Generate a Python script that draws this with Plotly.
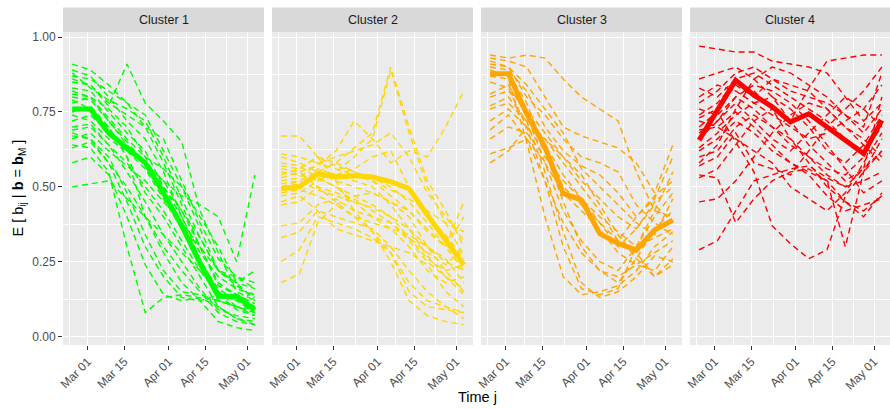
import plotly.graph_objects as go
import pandas as pd

# ---------------- data ----------------
dates = ["2020-02-24", "2020-03-02", "2020-03-09", "2020-03-16", "2020-03-23", "2020-03-30",
         "2020-04-06", "2020-04-13", "2020-04-20", "2020-04-27", "2020-05-04"]
cluster_names = ["Cluster 1", "Cluster 2", "Cluster 3", "Cluster 4"]
cluster_colors = ["#00FF00", "#FFD700", "#FFA500", "#FF0000"]
x_tick_vals = ["2020-03-01", "2020-03-15", "2020-04-01", "2020-04-15", "2020-05-01"]
x_minor_vals = ["2020-02-23", "2020-03-08", "2020-03-23 12:00", "2020-04-08", "2020-04-23"]
y_tick_vals = [0.0, 0.25, 0.5, 0.75, 1.0]
y_tick_text = ["0.00", "0.25", "0.50", "0.75", "1.00"]
y_minor_vals = [0.125, 0.375, 0.625, 0.875]

c1_mean = [0.76, 0.76, 0.68, 0.63, 0.58, 0.48, 0.37, 0.245, 0.135, 0.135, 0.09]
c1_lines = [
    [0.91, 0.89, 0.84, 0.78, 0.70, 0.58, 0.44, 0.30, 0.18, 0.14, 0.10],
    [0.89, 0.87, 0.80, 0.72, 0.66, 0.55, 0.40, 0.26, 0.15, 0.12, 0.08],
    [0.87, 0.86, 0.82, 0.78, 0.74, 0.62, 0.50, 0.36, 0.22, 0.17, 0.13],
    [0.85, 0.84, 0.77, 0.91, 0.78, 0.72, 0.65, 0.42, 0.28, 0.15, 0.12],
    [0.83, 0.82, 0.75, 0.68, 0.62, 0.50, 0.40, 0.28, 0.20, 0.16, 0.14],
    [0.80, 0.79, 0.72, 0.65, 0.58, 0.52, 0.42, 0.33, 0.22, 0.18, 0.16],
    [0.78, 0.80, 0.76, 0.70, 0.60, 0.48, 0.38, 0.24, 0.12, 0.10, 0.07],
    [0.75, 0.77, 0.70, 0.60, 0.48, 0.40, 0.30, 0.20, 0.10, 0.06, 0.05],
    [0.72, 0.74, 0.68, 0.62, 0.56, 0.46, 0.36, 0.25, 0.16, 0.12, 0.15],
    [0.70, 0.71, 0.64, 0.55, 0.45, 0.34, 0.25, 0.16, 0.09, 0.07, 0.06],
    [0.68, 0.66, 0.60, 0.48, 0.34, 0.22, 0.15, 0.14, 0.12, 0.10, 0.08],
    [0.66, 0.68, 0.62, 0.57, 0.52, 0.45, 0.38, 0.30, 0.22, 0.20, 0.18],
    [0.64, 0.63, 0.55, 0.30, 0.08, 0.13, 0.14, 0.13, 0.12, 0.10, 0.09],
    [0.63, 0.65, 0.58, 0.50, 0.40, 0.28, 0.18, 0.12, 0.05, 0.03, 0.02],
    [0.58, 0.60, 0.54, 0.40, 0.24, 0.14, 0.12, 0.13, 0.10, 0.06, 0.04],
    [0.50, 0.51, 0.52, 0.46, 0.40, 0.34, 0.28, 0.22, 0.15, 0.10, 0.08],
    [0.82, 0.80, 0.72, 0.64, 0.58, 0.52, 0.47, 0.44, 0.40, 0.25, 0.54],
    [0.86, 0.84, 0.78, 0.74, 0.70, 0.66, 0.52, 0.38, 0.26, 0.20, 0.16],
    [0.74, 0.72, 0.66, 0.62, 0.58, 0.50, 0.42, 0.30, 0.17, 0.14, 0.11],
    [0.79, 0.76, 0.70, 0.60, 0.40, 0.30, 0.22, 0.15, 0.08, 0.05, 0.04],
    [0.69, 0.70, 0.64, 0.58, 0.50, 0.42, 0.32, 0.22, 0.14, 0.09, 0.07],
    [0.88, 0.83, 0.79, 0.76, 0.72, 0.60, 0.46, 0.33, 0.22, 0.18, 0.22],
    [0.81, 0.80, 0.73, 0.66, 0.60, 0.56, 0.50, 0.40, 0.30, 0.18, 0.12],
    [0.67, 0.66, 0.58, 0.45, 0.30, 0.20, 0.13, 0.12, 0.14, 0.12, 0.10],
]

c2_mean = [0.494, 0.50, 0.544, 0.533, 0.537, 0.533, 0.517, 0.494, 0.406, 0.322, 0.239]
c2_lines = [
    [0.67, 0.67, 0.60, 0.57, 0.55, 0.53, 0.50, 0.45, 0.38, 0.30, 0.22],
    [0.61, 0.60, 0.58, 0.60, 0.62, 0.64, 0.68, 0.60, 0.48, 0.40, 0.32],
    [0.57, 0.56, 0.60, 0.58, 0.63, 0.68, 0.90, 0.70, 0.52, 0.42, 0.30],
    [0.55, 0.54, 0.52, 0.55, 0.60, 0.66, 0.89, 0.68, 0.50, 0.38, 0.27],
    [0.53, 0.55, 0.57, 0.62, 0.72, 0.66, 0.58, 0.62, 0.60, 0.70, 0.82],
    [0.51, 0.52, 0.55, 0.52, 0.50, 0.48, 0.45, 0.42, 0.36, 0.30, 0.45],
    [0.49, 0.50, 0.56, 0.54, 0.52, 0.50, 0.44, 0.36, 0.27, 0.20, 0.16],
    [0.44, 0.45, 0.50, 0.48, 0.46, 0.42, 0.38, 0.32, 0.25, 0.20, 0.14],
    [0.37, 0.38, 0.44, 0.46, 0.42, 0.35, 0.25, 0.12, 0.07, 0.05, 0.04],
    [0.33, 0.35, 0.42, 0.40, 0.38, 0.36, 0.30, 0.22, 0.15, 0.10, 0.08],
    [0.25, 0.29, 0.40, 0.38, 0.36, 0.33, 0.28, 0.15, 0.10, 0.09, 0.08],
    [0.18, 0.21, 0.38, 0.44, 0.47, 0.48, 0.45, 0.40, 0.30, 0.22, 0.15],
    [0.58, 0.57, 0.53, 0.50, 0.47, 0.44, 0.40, 0.33, 0.26, 0.22, 0.24],
    [0.52, 0.53, 0.58, 0.56, 0.54, 0.52, 0.49, 0.46, 0.42, 0.38, 0.35],
    [0.50, 0.51, 0.53, 0.50, 0.45, 0.40, 0.36, 0.30, 0.22, 0.18, 0.20],
    [0.47, 0.48, 0.52, 0.54, 0.56, 0.60, 0.62, 0.50, 0.40, 0.34, 0.26],
    [0.56, 0.55, 0.50, 0.45, 0.40, 0.38, 0.36, 0.34, 0.30, 0.26, 0.18],
    [0.54, 0.56, 0.60, 0.52, 0.42, 0.40, 0.38, 0.33, 0.28, 0.24, 0.30],
    [0.48, 0.49, 0.47, 0.44, 0.40, 0.35, 0.28, 0.18, 0.12, 0.10, 0.06],
    [0.60, 0.58, 0.55, 0.58, 0.55, 0.52, 0.47, 0.42, 0.35, 0.30, 0.40],
    [0.45, 0.47, 0.42, 0.36, 0.34, 0.32, 0.30, 0.28, 0.24, 0.15, 0.10],
    [0.50, 0.52, 0.49, 0.47, 0.45, 0.43, 0.40, 0.36, 0.30, 0.25, 0.22],
]

c3_mean = [0.878, 0.878, 0.744, 0.633, 0.478, 0.456, 0.344, 0.311, 0.289, 0.356, 0.389]
c3_lines = [
    [0.94, 0.93, 0.94, 0.93, 0.86, 0.80, 0.76, 0.72, 0.55, 0.42, 0.40],
    [0.93, 0.92, 0.90, 0.80, 0.70, 0.67, 0.65, 0.63, 0.58, 0.48, 0.64],
    [0.90, 0.89, 0.82, 0.70, 0.62, 0.57, 0.54, 0.48, 0.40, 0.46, 0.60],
    [0.88, 0.88, 0.78, 0.62, 0.45, 0.30, 0.22, 0.20, 0.24, 0.28, 0.32],
    [0.87, 0.86, 0.65, 0.40, 0.20, 0.14, 0.15, 0.17, 0.22, 0.30, 0.35],
    [0.81, 0.84, 0.74, 0.58, 0.42, 0.32, 0.25, 0.22, 0.30, 0.40, 0.48],
    [0.77, 0.80, 0.72, 0.55, 0.35, 0.18, 0.13, 0.15, 0.20, 0.27, 0.25],
    [0.72, 0.76, 0.70, 0.62, 0.50, 0.44, 0.38, 0.32, 0.28, 0.20, 0.24],
    [0.69, 0.74, 0.66, 0.52, 0.38, 0.28, 0.22, 0.18, 0.26, 0.36, 0.42],
    [0.66, 0.70, 0.68, 0.60, 0.52, 0.46, 0.40, 0.35, 0.30, 0.42, 0.55],
    [0.61, 0.63, 0.66, 0.58, 0.48, 0.42, 0.36, 0.28, 0.24, 0.22, 0.30],
    [0.58, 0.62, 0.70, 0.66, 0.60, 0.52, 0.46, 0.40, 0.36, 0.45, 0.50],
    [0.92, 0.90, 0.80, 0.74, 0.66, 0.60, 0.58, 0.55, 0.44, 0.38, 0.34],
    [0.89, 0.87, 0.76, 0.64, 0.54, 0.46, 0.38, 0.30, 0.36, 0.44, 0.38],
    [0.85, 0.83, 0.70, 0.52, 0.30, 0.16, 0.14, 0.16, 0.30, 0.33, 0.36],
    [0.80, 0.82, 0.76, 0.68, 0.60, 0.54, 0.44, 0.34, 0.26, 0.20, 0.26],
    [0.76, 0.78, 0.72, 0.66, 0.58, 0.50, 0.42, 0.32, 0.40, 0.47, 0.52],
    [0.91, 0.90, 0.84, 0.76, 0.68, 0.56, 0.50, 0.44, 0.38, 0.34, 0.46],
]

c4_mean = [0.656, 0.756, 0.856, 0.806, 0.767, 0.717, 0.744, 0.70, 0.656, 0.611, 0.722]
c4_lines = [
    [0.97, 0.96, 0.95, 0.95, 0.92, 0.91, 0.90, 0.88, 0.80, 0.72, 0.78],
    [0.86, 0.88, 0.90, 0.86, 0.80, 0.72, 0.83, 0.92, 0.93, 0.94, 0.94],
    [0.83, 0.80, 0.86, 0.88, 0.84, 0.80, 0.76, 0.72, 0.66, 0.62, 0.70],
    [0.80, 0.84, 0.82, 0.78, 0.74, 0.70, 0.66, 0.68, 0.72, 0.76, 0.84],
    [0.76, 0.74, 0.80, 0.84, 0.82, 0.78, 0.72, 0.64, 0.56, 0.48, 0.52],
    [0.73, 0.76, 0.84, 0.80, 0.86, 0.82, 0.80, 0.78, 0.74, 0.70, 0.88],
    [0.69, 0.70, 0.75, 0.70, 0.64, 0.58, 0.55, 0.52, 0.30, 0.55, 0.66],
    [0.66, 0.72, 0.80, 0.76, 0.70, 0.64, 0.60, 0.56, 0.54, 0.60, 0.72],
    [0.63, 0.68, 0.74, 0.78, 0.80, 0.76, 0.70, 0.62, 0.58, 0.64, 0.74],
    [0.60, 0.62, 0.70, 0.74, 0.70, 0.66, 0.58, 0.50, 0.45, 0.40, 0.48],
    [0.57, 0.60, 0.68, 0.58, 0.56, 0.54, 0.62, 0.70, 0.76, 0.82, 0.90],
    [0.54, 0.53, 0.38, 0.46, 0.52, 0.55, 0.56, 0.52, 0.45, 0.42, 0.47],
    [0.53, 0.56, 0.64, 0.72, 0.76, 0.72, 0.64, 0.58, 0.52, 0.56, 0.62],
    [0.45, 0.46, 0.52, 0.60, 0.68, 0.74, 0.78, 0.76, 0.70, 0.66, 0.60],
    [0.29, 0.32, 0.42, 0.52, 0.54, 0.56, 0.57, 0.53, 0.50, 0.52, 0.55],
    [0.70, 0.75, 0.65, 0.55, 0.37, 0.31, 0.26, 0.29, 0.47, 0.55, 0.62],
    [0.78, 0.82, 0.88, 0.90, 0.86, 0.84, 0.82, 0.76, 0.70, 0.64, 0.58],
    [0.62, 0.66, 0.72, 0.68, 0.62, 0.58, 0.54, 0.47, 0.42, 0.44, 0.46],
    [0.74, 0.78, 0.85, 0.82, 0.76, 0.66, 0.60, 0.54, 0.50, 0.56, 0.80],
    [0.68, 0.72, 0.78, 0.72, 0.66, 0.62, 0.68, 0.74, 0.80, 0.76, 0.70],
    [0.58, 0.64, 0.76, 0.86, 0.90, 0.88, 0.84, 0.80, 0.74, 0.68, 0.76],
    [0.72, 0.70, 0.66, 0.62, 0.58, 0.50, 0.46, 0.42, 0.48, 0.58, 0.68],
]

all_lines = [c1_lines, c2_lines, c3_lines, c4_lines]
all_means = [c1_mean, c2_mean, c3_mean, c4_mean]

# ---------------- layout geometry ----------------
W, H = 890, 409
ML, MR, MT, MB = 63, 0, 32, 64
plot_w = W - ML - MR
plot_h = H - MT - MB
panel_w, panel_step = 201, 209
x_start = pd.Timestamp("2020-02-20 12:00")
x_end_full = pd.Timestamp("2020-05-07 12:00")
span = x_end_full - x_start
y_range = [-0.028, 1.017]

FONT = "Liberation Sans, Arial, Helvetica, sans-serif"
fig = go.Figure()

layout = dict(
    width=W, height=H,
    margin=dict(l=ML, r=MR, t=MT, b=MB, pad=0),
    paper_bgcolor="white", plot_bgcolor="#EBEBEB",
    showlegend=False, font=dict(family=FONT, size=12, color="#4D4D4D"),
)
shapes, annotations = [], []

for k in range(4):
    sfx = "" if k == 0 else str(k + 1)
    left = panel_step * k
    right = min(left + panel_w, plot_w)
    frac = (right - left) / panel_w
    x_end = x_start + span * frac
    layout["xaxis" + sfx] = dict(
        domain=[left / plot_w, right / plot_w], anchor="y" + sfx,
        type="date", range=[x_start, x_end],
        tickmode="array", tickvals=x_tick_vals, tickformat="%b %d",
        tickangle=-45, ticks="outside", ticklen=4, tickwidth=1, tickcolor="#333333",
        tickfont=dict(family=FONT, size=12, color="#4D4D4D"),
        showgrid=True, gridcolor="white", gridwidth=1.2,
        minor=dict(tickmode="array", tickvals=x_minor_vals, showgrid=True,
                   gridcolor="white", gridwidth=0.6, ticks=""),
        zeroline=False, showline=False, fixedrange=True,
    )
    layout["yaxis" + sfx] = dict(
        domain=[0, 1], anchor="x" + sfx, range=y_range,
        tickmode="array", tickvals=y_tick_vals, ticktext=y_tick_text,
        ticks="outside" if k == 0 else "", ticklen=4, tickwidth=1, tickcolor="#333333",
        showticklabels=(k == 0),
        tickfont=dict(family=FONT, size=12, color="#4D4D4D"),
        showgrid=True, gridcolor="white", gridwidth=1.2,
        minor=dict(tickmode="array", tickvals=y_minor_vals, showgrid=True,
                   gridcolor="white", gridwidth=0.6, ticks=""),
        zeroline=False, showline=False, fixedrange=True,
    )
    # strip
    shapes.append(dict(type="rect", xref="x" + sfx + " domain", yref="paper",
                       x0=0, x1=1, y0=1, y1=1 + 24.5 / plot_h,
                       fillcolor="#D9D9D9", line=dict(width=0), layer="below"))
    annotations.append(dict(text=cluster_names[k], xref="x" + sfx + " domain", yref="paper",
                            x=0.5, y=1 + 12.25 / plot_h, showarrow=False,
                            xanchor="center", yanchor="middle",
                            font=dict(family=FONT, size=12.5, color="#1A1A1A")))
    # traces
    for vals in all_lines[k]:
        fig.add_trace(go.Scatter(x=dates, y=vals, mode="lines",
                                 xaxis="x" + sfx, yaxis="y" + sfx,
                                 line=dict(color=cluster_colors[k], width=1.4, dash="6px,4px"),
                                 hoverinfo="skip"))
    fig.add_trace(go.Scatter(x=dates, y=all_means[k], mode="lines",
                             xaxis="x" + sfx, yaxis="y" + sfx,
                             line=dict(color=cluster_colors[k], width=5),
                             hoverinfo="skip"))

annotations.append(dict(text="Time j", xref="paper", yref="paper",
                        x=(477.5 - ML) / plot_w, y=(MT + plot_h - 397) / plot_h,
                        showarrow=False, xanchor="center", yanchor="middle",
                        font=dict(family=FONT, size=14.5, color="black")))
annotations.append(dict(text="E [ b<sub>ij</sub> | <b>b</b> = <b>b</b><sub>M</sub> ]",
                        xref="paper", yref="paper",
                        x=(18 - ML) / plot_w, y=0.5, textangle=-90,
                        showarrow=False, xanchor="center", yanchor="middle",
                        font=dict(family=FONT, size=14.5, color="black")))

layout["shapes"] = shapes
layout["annotations"] = annotations
fig.update_layout(**layout)
fig.write_html("out.html")
